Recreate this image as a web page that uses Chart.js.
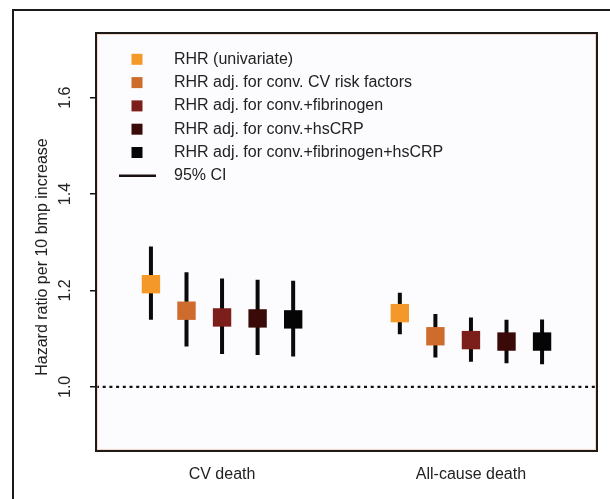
<!DOCTYPE html>
<html>
<head>
<meta charset="utf-8">
<script src="https://cdn.jsdelivr.net/npm/chart.js@4/dist/chart.umd.min.js"></script>
<style>
  html, body { margin: 0; padding: 0; background: #fff; }
  #wrap { width: 610px; height: 499px; position: relative; }
</style>
</head>
<body>
<div id="wrap"><canvas id="hrChart"></canvas></div>
<script>
/* global Chart */
const categories = ['CV death', 'All-cause death'];
const models = [
  'RHR (univariate)',
  'RHR adj. for conv. CV risk factors',
  'RHR adj. for conv.+fibrinogen',
  'RHR adj. for conv.+hsCRP',
  'RHR adj. for conv.+fibrinogen+hsCRP'
];
const modelColors = ['#f4982a', '#cd6c2c', '#7c1f1a', '#3a0a08', '#050505'];
const ciLabel = '95% CI';

// hazard ratio and 95% CI, one entry per model
const hrCV  = [1.213, 1.158, 1.144, 1.142, 1.140];
const loCV  = [1.139, 1.084, 1.068, 1.066, 1.063];
const hiCV  = [1.291, 1.238, 1.225, 1.222, 1.220];
const hrAll = [1.153, 1.105, 1.097, 1.094, 1.094];
const loAll = [1.109, 1.061, 1.052, 1.049, 1.047];
const hiAll = [1.195, 1.151, 1.144, 1.139, 1.140];

const yTicks = [1.0, 1.2, 1.4, 1.6];
const refValue = 1.0;

// slot layout on the x axis: 5 models per outcome, gap between outcomes
const slots = [1, 2, 3, 4, 5];
const groupStart = [0, 7];
const xMin = -0.545, xMax = 13.545;
const yMin = 0.867, yMax = 1.734;

const hr = [hrCV, hrAll];
const lo = [loCV, loAll];
const hi = [hiCV, hiAll];

const FONT = '"Liberation Sans", Arial, Helvetica, sans-serif';
const TXT = '#222';

function slotX(g, m){ return groupStart[g] + slots[m]; }

const pointSets = models.map((name, m) => ({
  label: name,
  data: categories.map((c, g) => ({ x: slotX(g, m), y: hr[g][m] })),
  pointStyle: 'rect',
  pointRadius: 13,
  pointHoverRadius: 13,
  pointBorderWidth: 0,
  backgroundColor: modelColors[m],
  borderColor: modelColors[m],
  showLine: false,
  order: 0
}));

// CI whiskers as one broken line (null points split the segments)
const ciData = [];
categories.forEach((c, g) => {
  models.forEach((name, m) => {
    ciData.push({ x: slotX(g, m), y: lo[g][m] });
    ciData.push({ x: slotX(g, m), y: hi[g][m] });
    ciData.push({ x: slotX(g, m), y: null });
  });
});

const ciSet = {
  label: ciLabel,
  data: ciData,
  showLine: true,
  spanGaps: false,
  borderColor: '#0a0a0a',
  borderWidth: 4,
  borderCapStyle: 'butt',
  pointRadius: 0,
  order: 1
};

const refSet = {
  label: 'ref',
  data: [{ x: xMin, y: refValue }, { x: xMax, y: refValue }],
  showLine: true,
  borderColor: '#111',
  borderWidth: 2.2,
  borderDash: [3, 3.7],
  pointRadius: 0,
  order: 2
};

const framePlugin = {
  id: 'frame',
  beforeDraw(chart){
    const { ctx, chartArea: a } = chart;
    ctx.save();
    ctx.fillStyle = '#fff';
    ctx.fillRect(0, 0, chart.width, chart.height);
    ctx.fillStyle = '#fcfcfe';
    ctx.fillRect(a.left, a.top, a.right - a.left, a.bottom - a.top);
    ctx.restore();
  },
  afterDraw(chart){
    const { ctx, chartArea: a, scales } = chart;
    ctx.save();
    // outer figure frame (runs off the right and bottom edges)
    ctx.strokeStyle = '#1a1a1a';
    ctx.lineWidth = 2;
    ctx.strokeRect(13, 10, 700, 600);

    // plot box with a faint warm halo
    ctx.strokeStyle = 'rgba(240,170,140,0.45)';
    ctx.lineWidth = 1;
    ctx.strokeRect(a.left + 1.5, a.top + 1.5, a.right - a.left - 3, a.bottom - a.top - 3);
    ctx.strokeStyle = '#1e1a18';
    ctx.lineWidth = 2;
    ctx.strokeRect(a.left, a.top, a.right - a.left, a.bottom - a.top);

    // rotated y tick labels
    ctx.fillStyle = TXT;
    ctx.font = '16px ' + FONT;
    ctx.textAlign = 'center';
    ctx.textBaseline = 'middle';
    yTicks.forEach(v => {
      const y = scales.y.getPixelForValue(v);
      ctx.save();
      ctx.translate(66, y);
      ctx.rotate(-Math.PI / 2);
      ctx.fillText(v.toFixed(1), 0, 0);
      ctx.restore();
    });

    // y axis title
    ctx.save();
    ctx.translate(43, (a.top + a.bottom) / 2 + 15);
    ctx.rotate(-Math.PI / 2);
    ctx.fillText('Hazard ratio per 10 bmp increase', 0, 0);
    ctx.restore();

    // legend inside the plot
    const lx = a.left + 41, tx = a.left + 78;
    const rowH = 23.3;
    let ry = a.top + 26.3;
    ctx.textAlign = 'left';
    models.forEach((name, m) => {
      ctx.fillStyle = modelColors[m];
      ctx.fillRect(lx - 5.5, ry - 5.5, 11, 11);
      ctx.fillStyle = TXT;
      ctx.fillText(name, tx, ry);
      ry += rowH;
    });
    ctx.strokeStyle = '#1a1010';
    ctx.lineWidth = 2.5;
    ctx.beginPath();
    ctx.moveTo(lx - 18, ry);
    ctx.lineTo(lx + 19, ry);
    ctx.stroke();
    ctx.fillStyle = TXT;
    ctx.fillText(ciLabel, tx, ry);
    ctx.restore();
  }
};

const groupCenters = categories.map((c, g) => slotX(g, 2));

new Chart(document.getElementById('hrChart'), {
  type: 'scatter',
  data: { datasets: [...pointSets, ciSet, refSet] },
  options: {
    responsive: true,
    maintainAspectRatio: false,
    animation: false,
    events: [],
    layout: { padding: { left: 0, right: 12, top: 33, bottom: 0 } },
    plugins: { legend: { display: false }, tooltip: { enabled: false } },
    scales: {
      x: {
        type: 'linear',
        min: xMin,
        max: xMax,
        afterBuildTicks: s => { s.ticks = groupCenters.map(v => ({ value: v })); },
        afterFit: s => { s.height = 48; },
        grid: { display: false, drawTicks: false },
        border: { display: false },
        ticks: {
          padding: 14,
          color: TXT,
          font: { family: FONT, size: 16 },
          maxRotation: 0,
          callback: (v, i) => categories[i]
        }
      },
      y: {
        type: 'linear',
        min: yMin,
        max: yMax,
        afterBuildTicks: s => { s.ticks = yTicks.map(v => ({ value: v })); },
        afterFit: s => { s.width = 96; },
        grid: { drawOnChartArea: false, drawTicks: true, tickLength: 6, color: '#111', lineWidth: 1.5 },
        border: { display: false },
        ticks: { display: false }
      }
    }
  },
  plugins: [framePlugin]
});
</script>
</body>
</html>
